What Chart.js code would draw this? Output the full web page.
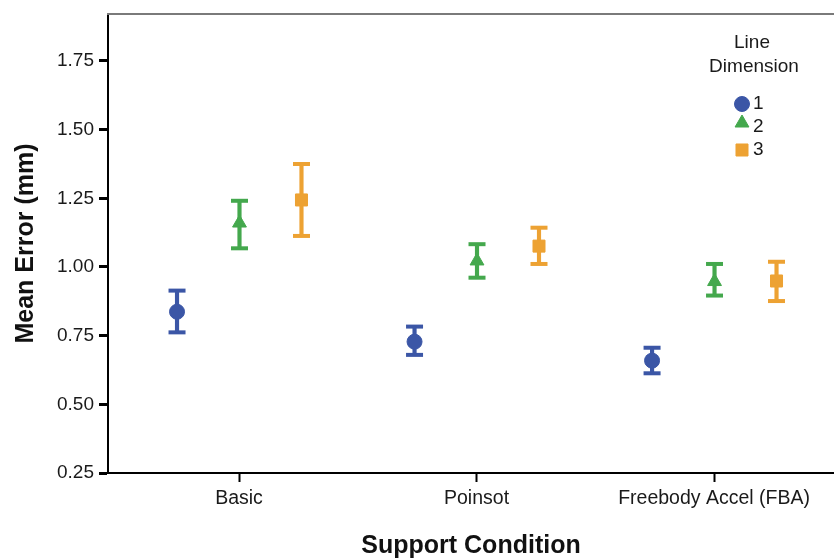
<!DOCTYPE html>
<html><head><meta charset="utf-8">
<script src="https://cdn.jsdelivr.net/npm/chart.js@4"></script>
<style>html,body{margin:0;padding:0;background:#fff;overflow:hidden}#wrap{width:834px;height:559px}canvas{display:block}</style>
</head><body><div id="wrap"><canvas id="c" width="834" height="559"></canvas></div>
<script>
// ---- data ----
const categories = ['Basic', 'Poinsot', 'Freebody Accel (FBA)'];
const dimensions = ['1', '2', '3'];
const legendTitle = ['Line', 'Dimension'];
const mean1 = [0.837, 0.728, 0.659];
const low1  = [0.762, 0.680, 0.613];
const high1 = [0.914, 0.783, 0.706];
const mean2 = [1.160, 1.022, 0.947];
const low2  = [1.068, 0.961, 0.896];
const high2 = [1.241, 1.083, 1.011];
const mean3 = [1.244, 1.076, 0.949];
const low3  = [1.113, 1.011, 0.876];
const high3 = [1.375, 1.143, 1.019];
const yTickValues = [0.25, 0.50, 0.75, 1.00, 1.25, 1.50, 1.75];

// ---- styles ----
const colors = ['#3b56a6', '#44a84d', '#eda233'];
const shapes = ['circle', 'triangle', 'rect'];
const markerRadius = [7.5, 8, 8.5];
const dodge = [-0.261, 0.002, 0.263];
const FONT = "'Liberation Sans', Arial, Helvetica, sans-serif";

const means = [mean1, mean2, mean3];
const lows = [low1, low2, low3];
const highs = [high1, high2, high3];

const datasets = [];
dimensions.forEach((dim, d) => {
  const xs = categories.map((c, i) => i + 1 + dodge[d]);
  datasets.push({
    type: 'scatter', label: dim, order: 0,
    data: xs.map((x, i) => ({x, y: means[d][i]})),
    pointStyle: shapes[d], pointRadius: markerRadius[d], pointHoverRadius: markerRadius[d],
    pointBackgroundColor: colors[d], pointBorderColor: colors[d], pointBorderWidth: 1
  });
  datasets.push({
    type: 'bar', label: dim + ' CI', order: 1, grouped: false,
    data: xs.map((x, i) => ({x, y: [lows[d][i], highs[d][i]]})),
    backgroundColor: colors[d], barThickness: 3.5, borderWidth: 0
  });
  datasets.push({
    type: 'scatter', label: dim + ' caps', order: 1,
    data: xs.map((x, i) => ({x, y: lows[d][i]})).concat(xs.map((x, i) => ({x, y: highs[d][i]}))),
    pointStyle: 'line', pointRadius: 8.5, pointHoverRadius: 8.5,
    pointBorderColor: colors[d], pointBorderWidth: 4
  });
});

const framePlugin = {
  id: 'frame',
  afterDraw(chart) {
    const {ctx, chartArea: a} = chart;
    ctx.save();
    ctx.strokeStyle = '#7a7a7a';
    ctx.lineWidth = 2;
    ctx.beginPath();
    ctx.moveTo(a.left - 1, a.top);
    ctx.lineTo(a.right, a.top);
    ctx.stroke();
    // legend
    ctx.fillStyle = '#1a1a1a';
    ctx.textAlign = 'center';
    ctx.textBaseline = 'middle';
    ctx.font = '19px ' + FONT;
    ctx.fillText(legendTitle[0], 752, 43);
    ctx.fillText(legendTitle[1], 754, 67);
    const itemY = [104, 127, 150];
    const markY = [104, 123, 150];
    dimensions.forEach((dim, d) => {
      ctx.fillStyle = colors[d];
      ctx.strokeStyle = colors[d];
      ctx.lineWidth = 1;
      Chart.helpers.drawPoint(ctx, {pointStyle: shapes[d], radius: markerRadius[d], rotation: 0, borderWidth: 1}, 742, markY[d]);
      ctx.fillStyle = '#1a1a1a';
      ctx.textAlign = 'left';
      ctx.fillText(dim, 753, itemY[d]);
    });
    ctx.restore();
  }
};

new Chart(document.getElementById('c'), {
  type: 'scatter',
  data: {datasets},
  plugins: [framePlugin],
  options: {
    responsive: false,
    animation: false,
    events: [],
    layout: {autoPadding: false, padding: {left: 8, top: 14, right: 0, bottom: 0}},
    plugins: {legend: {display: false}, tooltip: {enabled: false}},
    scales: {
      x: {
        type: 'linear', min: 0.4484, max: 3.505, offset: false,
        afterBuildTicks: s => { s.ticks = categories.map((c, i) => ({value: i + 1})); },
        afterFit: s => { s.height = 86; s.paddingLeft = 0; s.paddingRight = 0; },
        ticks: {callback: v => categories[Math.round(v) - 1] || '', font: {family: FONT, size: 19.5}, color: '#1a1a1a', padding: 5, maxRotation: 0, autoSkip: false},
        grid: {display: true, offset: false, drawOnChartArea: false, tickLength: 9, tickWidth: 2, tickColor: '#000'},
        border: {display: true, color: '#000', width: 2},
        title: {display: true, text: 'Support Condition', font: {family: FONT, size: 25, weight: 'bold'}, color: '#111', padding: {top: 0, bottom: -2}}
      },
      y: {
        type: 'linear', min: 0.25, max: 1.921,
        afterBuildTicks: s => { s.ticks = yTickValues.map(v => ({value: v})); },
        afterFit: s => { s.width = 100; s.paddingTop = 0; },
        ticks: {callback: v => v.toFixed(2), font: {family: FONT, size: 19}, color: '#1a1a1a', padding: 5},
        grid: {display: true, drawOnChartArea: false, tickLength: 9, tickWidth: 3, tickColor: '#000'},
        border: {display: true, color: '#000', width: 2},
        title: {display: true, text: 'Mean Error (mm)', font: {family: FONT, size: 25, weight: 'bold'}, color: '#111', padding: {top: 3, bottom: 0}}
      }
    }
  }
});
</script></body></html>
